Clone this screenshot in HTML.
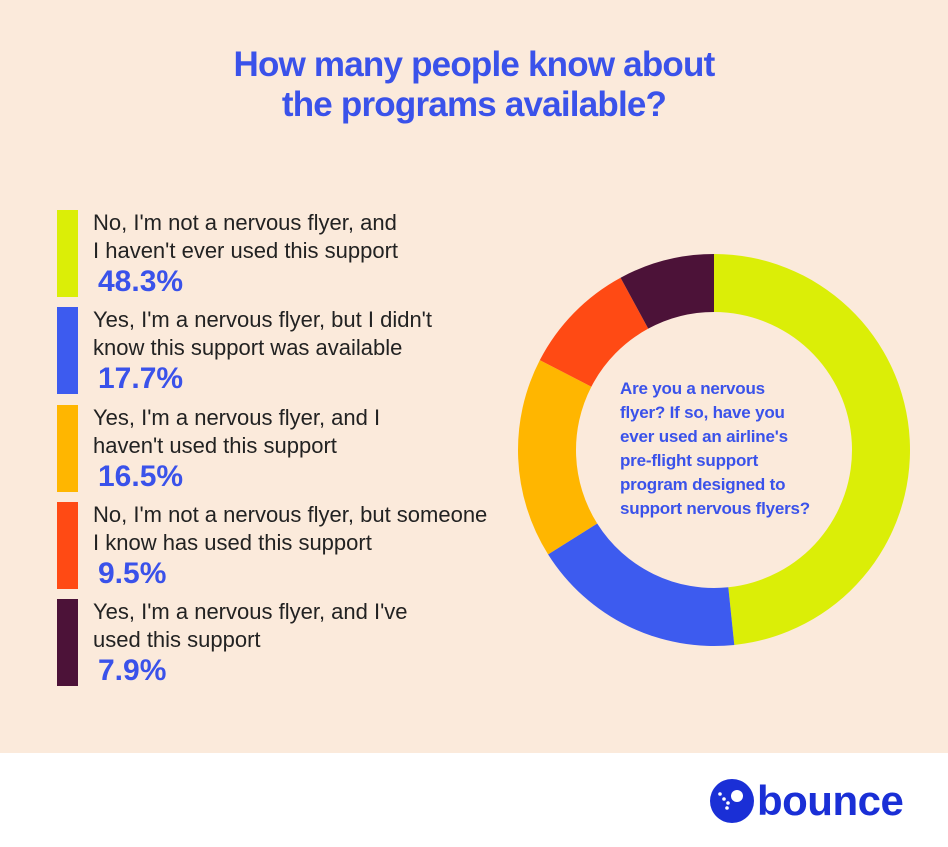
<!DOCTYPE html>
<html><head><meta charset="utf-8"><style>
body{margin:0;width:948px;height:847px;overflow:hidden;font-family:"Liberation Sans",sans-serif}
#bg{position:absolute;left:0;top:0;width:948px;height:753px;background:#fbeadb}
#foot{position:absolute;left:0;top:753px;width:948px;height:94px;background:#fff}
h1{position:absolute;left:0;top:45px;width:948px;margin:0;text-align:center;font-size:35px;line-height:40px;color:#3a52ea;font-weight:bold;letter-spacing:-0.8px}
.item{position:absolute;left:57px;height:87px}
.bar{position:absolute;left:0;top:0;width:21px;height:87px}
.txt{position:absolute;left:36px;top:-1px;width:440px;font-size:22px;line-height:28px;color:#222;white-space:nowrap}
.pct{position:absolute;left:41px;top:55px;font-size:30px;line-height:34px;font-weight:bold;color:#3a52ea}
</style></head><body>
<div id="bg"></div>
<div id="foot"></div>
<h1>How many people know about<br>the programs available?</h1>
<div id="legend"></div>
<svg id="donut" width="948" height="847" style="position:absolute;left:0;top:0"></svg>
<div style="position:absolute;left:620px;top:377px;width:240px;font-size:17px;line-height:24px;font-weight:bold;color:#3a52ea;white-space:nowrap;letter-spacing:-0.2px">Are you a nervous<br>flyer? If so, have you<br>ever used an airline's<br>pre-flight support<br>program designed to<br>support nervous flyers?</div>
<svg width="50" height="50" style="position:absolute;left:707px;top:777px"><circle cx="25" cy="24" r="22" fill="#1a2fd6"/><circle cx="30" cy="19" r="6" fill="#fff"/><circle cx="13" cy="17" r="1.8" fill="#fff"/><circle cx="17" cy="22" r="1.8" fill="#fff"/><circle cx="21" cy="26" r="1.8" fill="#fff"/><circle cx="20" cy="31" r="1.8" fill="#fff"/></svg>
<div style="position:absolute;left:757px;top:777px;font-size:42px;font-weight:bold;color:#1a2fd6;letter-spacing:-0.5px">bounce</div>
<script>
const labels=["No, I'm not a nervous flyer, and<br>I haven't ever used this support","Yes, I'm a nervous flyer, but I didn't<br>know this support was available","Yes, I'm a nervous flyer, and I<br>haven't used this support","No, I'm not a nervous flyer, but someone<br>I know has used this support","Yes, I'm a nervous flyer, and I've<br>used this support"];
const values=[48.3,17.7,16.5,9.5,7.9];
const colors=["#dbee07","#3d5bef","#ffb600","#ff4a14","#4c1238"];
const legend=document.getElementById('legend');
values.forEach((v,i)=>{
  const d=document.createElement('div');d.className='item';d.style.top=(210+i*97.3)+'px';
  
  
  d.innerHTML='<div class="bar" style="background:'+colors[i]+'"></div><div class="txt">'+labels[i]+'</div><div class="pct">'+v.toFixed(1)+'%</div>';
  legend.appendChild(d);
});
const svg=document.getElementById('donut');
const cx=714,cy=450,R=196,r=138;
const total=values.reduce((a,b)=>a+b,0);
let a0=0;
function pt(rad,a){return [cx+rad*Math.sin(a),cy-rad*Math.cos(a)];}
values.forEach((v,i)=>{
  const a1=a0+v/total*2*Math.PI;const lg=(a1-a0)>Math.PI?1:0;
  const p1=pt(R,a0),p2=pt(R,a1),p3=pt(r,a1),p4=pt(r,a0);
  const p=document.createElementNS('http://www.w3.org/2000/svg','path');
  p.setAttribute('d',`M${p1}A${R},${R} 0 ${lg} 1 ${p2}L${p3}A${r},${r} 0 ${lg} 0 ${p4}Z`);
  p.setAttribute('fill',colors[i]);
  
  
  svg.appendChild(p);a0=a1;
});
</script>
</body></html>
